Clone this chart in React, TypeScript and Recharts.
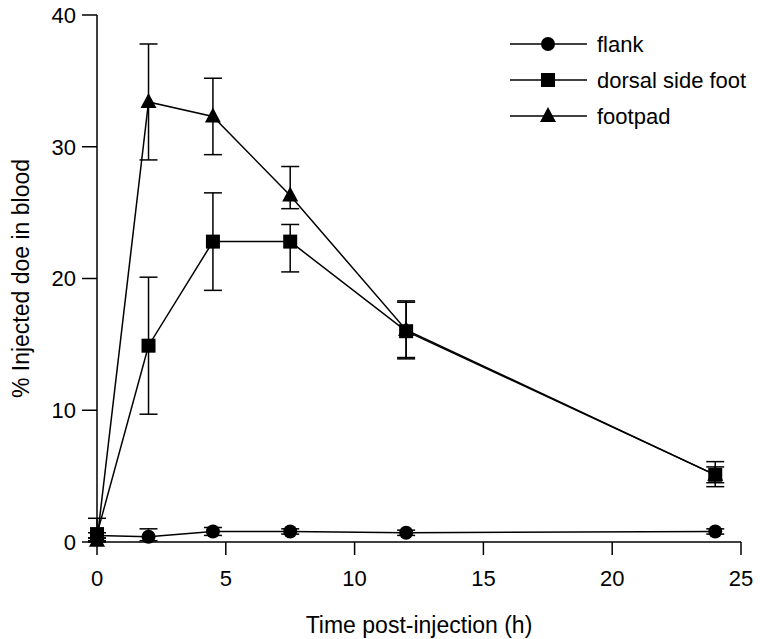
import { ErrorBar, Line, LineChart, XAxis, YAxis } from "recharts";

const FONT = '"Liberation Sans", Arial, Helvetica, sans-serif';

const hours = [0, 2, 4.5, 7.5, 12, 24];

const flank = [0.5, 0.4, 0.8, 0.8, 0.7, 0.8];
const flankLow = [0.3, 0.1, 0.5, 0.6, 0.5, 0.6];
const flankHigh = [0.7, 1.0, 1.1, 1.0, 0.9, 1.0];

const dorsal = [0.6, 14.9, 22.8, 22.8, 16.0, 5.1];
const dorsalLow = [0.1, 9.7, 19.1, 20.5, 13.9, 4.2];
const dorsalHigh = [1.8, 20.1, 26.5, 24.1, 18.2, 6.1];

const footpad = [0.1, 33.4, 32.3, 26.3, 16.1, 5.1];
const footpadLow = [0.0, 29.0, 29.4, 25.3, 14.0, 4.5];
const footpadHigh = [0.3, 37.8, 35.2, 28.5, 18.3, 5.7];

const xTicks = [0, 5, 10, 15, 20, 25];
const yTicks = [0, 10, 20, 30, 40];

const legendItems = [
  { name: "flank", shape: "circle" },
  { name: "dorsal side foot", shape: "square" },
  { name: "footpad", shape: "triangle" },
];

const data = hours.map((h, i) => ({
  h,
  flank: flank[i],
  flankErr: [flank[i] - flankLow[i], flankHigh[i] - flank[i]],
  dorsal: dorsal[i],
  dorsalErr: [dorsal[i] - dorsalLow[i], dorsalHigh[i] - dorsal[i]],
  footpad: footpad[i],
  footpadErr: [footpad[i] - footpadLow[i], footpadHigh[i] - footpad[i]],
}));

function Marker({ shape, cx, cy }: { shape: string; cx: number; cy: number }) {
  if (shape === "circle") return <circle cx={cx} cy={cy} r={7} fill="#000" />;
  if (shape === "square") return <rect x={cx - 7} y={cy - 7} width={14} height={14} fill="#000" />;
  return <polygon points={`${cx},${cy - 9} ${cx + 8},${cy + 6} ${cx - 8},${cy + 6}`} fill="#000" />;
}

const dotFor = (shape: string) => (props: any) => {
  const { cx, cy, index } = props;
  if (cx == null || cy == null) return <g key={index} />;
  return <Marker key={`${shape}-${index}`} shape={shape} cx={cx} cy={cy} />;
};

function LegendBox() {
  return (
    <svg width={260} height={110} style={{ fontFamily: FONT, display: "block" }}>
      {legendItems.map((item, i) => {
        const y = 17 + i * 36;
        return (
          <g key={item.name}>
            <line x1={5} x2={82} y1={y} y2={y} stroke="#000" strokeWidth={1.3} />
            <Marker shape={item.shape} cx={43} cy={y} />
            <text x={92} y={y + 8} fontSize={22} fill="#000">
              {item.name}
            </text>
          </g>
        );
      })}
    </svg>
  );
}

export default function App() {
  const tickStyle = { fill: "#000", fontSize: 22, fontFamily: FONT };
  return (
    <div style={{ position: "absolute", left: 0, top: 0, width: 760, height: 639, background: "#fff" }}>
      <LineChart
        width={760}
        height={639}
        data={data}
        margin={{ top: 15, right: 19, bottom: 0, left: 47 }}
      >
        <XAxis
          dataKey="h"
          type="number"
          domain={[0, 25]}
          ticks={xTicks}
          tick={tickStyle}
          tickSize={13}
          tickMargin={15}
          stroke="#000"
          strokeWidth={1.5}
          height={97}
          label={{ value: "Time post-injection (h)", position: "insideBottom", offset: 6, style: { ...tickStyle, fontSize: 23 } }}
        />
        <YAxis
          type="number"
          domain={[0, 40]}
          ticks={yTicks}
          tick={tickStyle}
          tickSize={15}
          tickMargin={6}
          stroke="#000"
          strokeWidth={1.5}
          width={50}
          label={{
            value: "% Injected doe in blood",
            angle: -90,
            position: "insideLeft",
            offset: -26,
            style: { ...tickStyle, fontSize: 23, textAnchor: "middle" },
          }}
        />
        <Line
          dataKey="flank"
          stroke="#000"
          strokeWidth={1.5}
          dot={dotFor("circle")}
          isAnimationActive={false}
        >
          <ErrorBar dataKey="flankErr" width={9} stroke="#000" strokeWidth={1.5} direction="y" />
        </Line>
        <Line
          dataKey="footpad"
          stroke="#000"
          strokeWidth={1.5}
          dot={dotFor("triangle")}
          isAnimationActive={false}
        >
          <ErrorBar dataKey="footpadErr" width={9} stroke="#000" strokeWidth={1.5} direction="y" />
        </Line>
        <Line
          dataKey="dorsal"
          stroke="#000"
          strokeWidth={1.5}
          dot={dotFor("square")}
          isAnimationActive={false}
        >
          <ErrorBar dataKey="dorsalErr" width={9} stroke="#000" strokeWidth={1.5} direction="y" />
        </Line>
      </LineChart>
      <div style={{ position: "absolute", left: 505, top: 27 }}>
        <LegendBox />
      </div>
    </div>
  );
}
